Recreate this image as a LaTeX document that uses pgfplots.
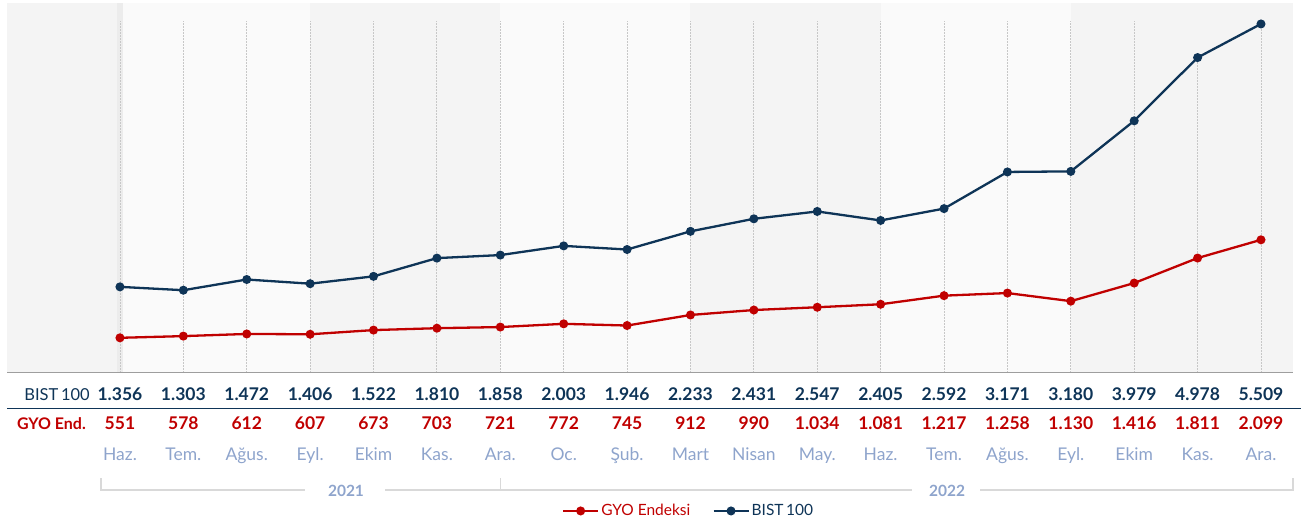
\documentclass[border=0pt]{standalone}
\usepackage{fontspec}
\setmainfont{Lato}
\usepackage{pgfplots}
\usepackage{pgfplotstable}
\pgfplotsset{compat=1.18}
\definecolor{navy}{HTML}{0E3457}
\definecolor{gyored}{HTML}{C00000}
\definecolor{monthc}{HTML}{8EA4CC}
\definecolor{bandd}{HTML}{F4F4F4}
\definecolor{bandl}{HTML}{FAFAFA}
\definecolor{bandx}{HTML}{ECECEC}
\definecolor{bracketc}{HTML}{D9D9D9}

% BIST 100 and GYO Endeksi, Haz. 2021 - Ara. 2022
\pgfplotstableread{
x bist gyo
0  1356 551
1  1303 578
2  1472 612
3  1406 607
4  1522 673
5  1810 703
6  1858 721
7  2003 772
8  1946 745
9  2233 912
10 2431 990
11 2547 1034
12 2405 1081
13 2592 1217
14 3171 1258
15 3180 1130
16 3979 1416
17 4978 1811
18 5509 2099
}\data

\begin{document}
\begin{tikzpicture}[x=1pt,y=1pt]
\useasboundingbox (0,0) rectangle (1304,-526);
\begin{axis}[
    at={(7pt,-3pt)}, anchor=north west,
    scale only axis,
    width=1286pt, height=369.7pt,
    xmin=-1.782, xmax=18.505,
    ymin=0, ymax=5840,
    axis lines=none,
    clip=true,
    legend columns=2,
    legend style={at={(0.530,-0.374)}, anchor=center, draw=none, fill=none,
        font=\fontsize{15.5}{18}\selectfont,
        /tikz/every even column/.append style={column sep=20pt}},
    legend image code/.code={
        \draw[#1, mark=none] (0pt,0pt) -- (35pt,0pt);
        \draw[#1, only marks] plot coordinates {(17.5pt,0pt)};
    },
]
% background bands
\fill[bandd] (-1.782,0) rectangle (-0.05,5840);
\fill[bandx] (-0.05,0) rectangle (0.05,5840);
\fill[bandl] (0.05,0) rectangle (3,5840);
\fill[bandd] (3,0) rectangle (6,5840);
\fill[bandl] (6,0) rectangle (9,5840);
\fill[bandd] (9,0) rectangle (12,5840);
\fill[bandl] (12,0) rectangle (15,5840);
\fill[bandd] (15,0) rectangle (18.505,5840);

% dotted drop lines
\pgfplotsinvokeforeach{0,...,16}{
    \draw[black!22, line width=0.9pt, dash pattern=on 1.2pt off 1.8pt] (#1,0) -- (#1,5556);
}
\draw[black!22, line width=0.9pt, dash pattern=on 1.2pt off 1.8pt] (17,0) -- (17,4978);
\draw[black!22, line width=0.9pt, dash pattern=on 1.2pt off 1.8pt] (18,0) -- (18,5509);

\addplot[gyored, line width=2.3pt, mark=*, mark size=3.3pt] table[x=x, y=gyo] {\data};
\addlegendentry{\textcolor{gyored}{GYO Endeksi}}
\addplot[navy, line width=2.3pt, mark=*, mark size=3.3pt] table[x=x, y=bist] {\data};
\addlegendentry{\textcolor{navy}{BIST\,100}}
\end{axis}

% axis base line and separator
\draw[black!38, line width=1.2pt] (7,-372.7) -- (1293,-372.7);
\draw[navy, line width=1.3pt] (7,-408.3) -- (1301,-408.3);

% row labels
\node[navy, anchor=base east, inner sep=0, font=\fontsize{16.5}{18}\selectfont] at (90,-400.7) {BIST\,100};
\node[gyored, anchor=base east, inner sep=0, font=\fontsize{16}{18}\selectfont\bfseries] at (86,-430) {GYO End.};

% value rows
\foreach \v [count=\i from 0] in {1.356,1.303,1.472,1.406,1.522,1.810,1.858,2.003,1.946,2.233,2.431,2.547,2.405,2.592,3.171,3.180,3.979,4.978,5.509}
    \node[navy, anchor=base, inner sep=0, font=\fontsize{17.5}{20}\selectfont\bfseries] at ({119.96+63.39*\i},-400.7) {\v};
\foreach \v [count=\i from 0] in {551,578,612,607,673,703,721,772,745,912,990,1.034,1.081,1.217,1.258,1.130,1.416,1.811,2.099}
    \node[gyored, anchor=base, inner sep=0, font=\fontsize{17.5}{20}\selectfont\bfseries] at ({119.96+63.39*\i},-430) {\v};
\foreach \v [count=\i from 0] in {Haz.,Tem.,Ağus.,Eyl.,Ekim,Kas.,Ara.,Oc.,Şub.,Mart,Nisan,May.,Haz.,Tem.,Ağus.,Eyl.,Ekim,Kas.,Ara.}
    \node[monthc, anchor=base, inner sep=0, font=\fontsize{17.5}{20}\selectfont] at ({119.96+63.39*\i},-460.7) {\v};

% year brackets
\draw[bracketc, line width=1.3pt] (101,-478) -- (101,-490) -- (305,-490);
\draw[bracketc, line width=1.3pt] (385,-490) -- (912,-490);
\draw[bracketc, line width=1.3pt] (500.7,-478) -- (500.7,-490);
\draw[bracketc, line width=1.3pt] (980,-490) -- (1293,-490) -- (1293,-478);
\node[monthc, anchor=base, inner sep=0, font=\fontsize{15.5}{18}\selectfont\bfseries] at (346,-496) {2021};
\node[monthc, anchor=base, inner sep=0, font=\fontsize{15.5}{18}\selectfont\bfseries] at (947,-496) {2022};
\end{tikzpicture}
\end{document}
